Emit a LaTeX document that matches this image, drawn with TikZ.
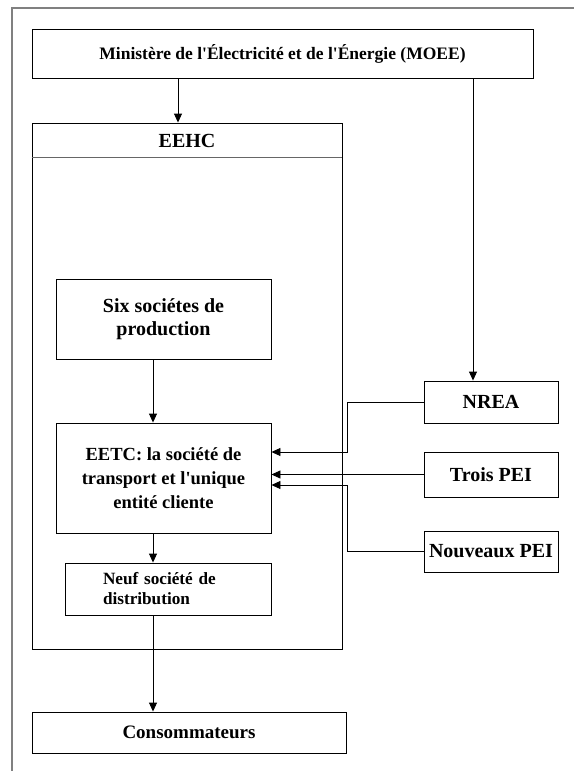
\documentclass[tikz,border=0pt]{standalone}
\usepackage{fontspec}
\setmainfont{Liberation Serif}
\usetikzlibrary{arrows.meta}

\tikzset{
    box/.style={draw, line width=0.9pt, inner sep=0pt, font=\bfseries},
    arr/.style={line width=0.9pt, -{Triangle[length=9pt,width=8pt]}},
    link/.style={line width=0.9pt}
}

\begin{document}
\begin{tikzpicture}[x=1pt, y=-1pt]
    \useasboundingbox (0,0) rectangle (574,771);
    \draw[gray, line width=1.5pt] (12,771) -- (12,8) -- (574,8);

    % top level
    \node[box, minimum width=501pt, minimum height=49pt, font=\bfseries\fontsize{17.5}{20}\selectfont] (moee) at (282.5,53.5) {Minist\`ere de l\textquotesingle\'Electricit\'e et de l\textquotesingle\'Energie (MOEE)};

    % EEHC holding
    \node[box, minimum width=310pt, minimum height=526pt] (eehc) at (187,386) {};
    \draw[link, gray!80!black] ([yshift=-35pt]eehc.north west) -- ([yshift=-35pt]eehc.north east);
    \node[font=\bfseries\fontsize{20}{23}\selectfont] (eehclbl) at (187,141) {EEHC};

    \node[box, minimum width=215pt, minimum height=80pt, align=center, font=\bfseries\fontsize{20}{23}\selectfont] (six) at (163.5,319) {Six soci\'etes de\\production};
    \node[box, minimum width=215pt, minimum height=110pt, align=center, font=\bfseries\fontsize{18.5}{24}\selectfont] (eetc) at (163.5,478) {EETC: la soci\'et\'e de\\transport et l\textquotesingle unique\\entit\'e cliente};
    \node[box, text width=130pt, inner xsep=38pt, minimum height=52pt, align=left, font=\bfseries\fontsize{17.2}{20}\selectfont] (neuf) at (168,589) {Neuf soci\'et\'e de\\distribution};

    \node[box, minimum width=314pt, minimum height=41pt, font=\bfseries\fontsize{19}{22}\selectfont] (cons) at (189,732.5) {Consommateurs};

    % outside actors
    \node[box, minimum width=134pt, minimum height=42pt, font=\bfseries\fontsize{20}{23}\selectfont] (nrea) at (491,402) {NREA};
    \node[box, minimum width=134pt, minimum height=45pt, font=\bfseries\fontsize{20}{23}\selectfont] (trois) at (491,474.5) {Trois PEI};
    \node[box, minimum width=134pt, minimum height=41pt, font=\bfseries\fontsize{20}{23}\selectfont] (nouv) at (491,551.5) {Nouveaux PEI};

    % connectors
    \coordinate (xa) at (178,0);
    \coordinate (xb) at (473,0);
    \coordinate (xc) at (153,0);
    \coordinate (bus) at (347,0);
    \draw[arr] (moee.south -| xa) -- (eehc.north -| xa);
    \draw[arr] (moee.south -| xb) -- (nrea.north -| xb);
    \draw[arr] (six.south -| xc) -- (eetc.north -| xc);
    \draw[arr] (eetc.south -| xc) -- (neuf.north -| xc);
    \draw[arr] (neuf.south -| xc) -- (cons.north -| xc);
    \draw[arr] (nrea.west) -- (nrea.west -| bus) |- ([yshift=26pt]eetc.east);
    \draw[arr] (trois.west) -- (trois.west -| eetc.east);
    \draw[arr] (nouv.west) -- (nouv.west -| bus) |- ([yshift=-7pt]eetc.east);
\end{tikzpicture}
\end{document}
